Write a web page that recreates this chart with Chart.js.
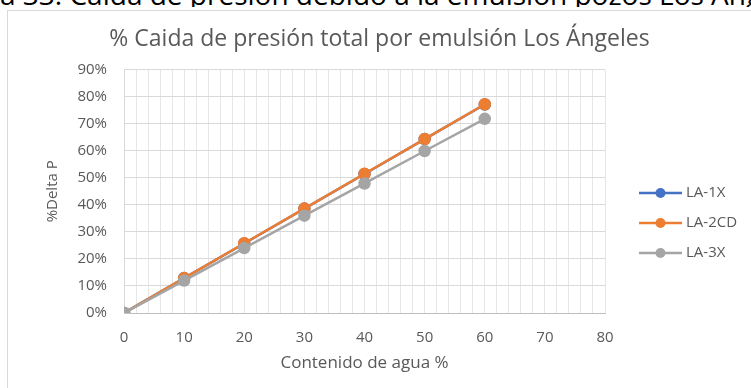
<!DOCTYPE html>
<html>
<head>
<meta charset="utf-8">
<script src="https://cdn.jsdelivr.net/npm/chart.js@4.4.1/dist/chart.umd.min.js"></script>
<style>
    html, body { margin: 0; padding: 0; background: #ffffff; overflow: hidden; }
    body { width: 751px; height: 388px; position: relative; }
    #caption {
        position: absolute; left: 0; top: -20px; width: 751px; height: 27px;
        white-space: nowrap; overflow: hidden;
        font-family: "Open Sans", "Noto Sans", sans-serif; font-size: 28px; line-height: 28px; color: #000000;
    }
    #box {
        position: absolute; left: 7px; top: 10px; width: 744px; height: 378px;
        border-left: 1px solid #d9d9d9; border-top: 1px solid #d9d9d9; background: #ffffff;
    }
    #chart_container { position: absolute; left: 0; top: 0; width: 743px; height: 377px; }
</style>
</head>
<body>
<div id="caption">a 33: Caída de presión debido a la emulsión pozos Los Ángeles</div>
<div id="box">
    <div id="chart_container"><canvas id="LA_Chart"></canvas></div>
</div>
<script>
//--------------------------------------------------------------------------------------//
//--------------------------------------- Data -----------------------------------------//
//--------------------------------------------------------------------------------------//
var water_content = [0, 10, 20, 30, 40, 50, 60];
var la_1x = [0, 12.9, 25.7, 38.6, 51.4, 64.3, 77.1];
var la_2cd = [0, 12.9, 25.8, 38.6, 51.5, 64.3, 77.2];
var la_3x = [0, 12.0, 24.0, 36.0, 47.9, 59.9, 71.8];
var series_names = ['LA-1X', 'LA-2CD', 'LA-3X'];
var series_colors = ['#4472C4', '#ED7D31', '#A5A5A5'];

var FONT = '"Open Sans", "Noto Sans", sans-serif';
var TEXT_COLOR = '#595959';

function toPoints(values) {
    return water_content.map(function (x, i) {
        return { x: x, y: values[i] };
    });
}

function makeDataset(idx, values) {
    return {
        label: series_names[idx],
        data: toPoints(values),
        borderColor: series_colors[idx],
        backgroundColor: series_colors[idx],
        pointBackgroundColor: series_colors[idx],
        pointBorderColor: series_colors[idx],
        borderWidth: 2.5,
        pointRadius: 5,
        pointHoverRadius: 5,
        order: 3 - idx
    };
}

//--------------------------------------------------------------------------------------//
//------------------------------ Legend (line + marker) --------------------------------//
//--------------------------------------------------------------------------------------//
var lineLegend = {
    id: 'lineLegend',
    afterDraw: function (chart, args, opts) {
        var ctx = chart.ctx;
        var x0 = chart.chartArea.right + opts.offsetX;
        ctx.save();
        ctx.font = '15px ' + FONT;
        ctx.textBaseline = 'middle';
        ctx.textAlign = 'left';
        chart.data.datasets.forEach(function (ds, i) {
            var y = opts.top + i * opts.spacing;
            ctx.strokeStyle = ds.borderColor;
            ctx.lineWidth = 2.5;
            ctx.beginPath();
            ctx.moveTo(x0, y);
            ctx.lineTo(x0 + opts.lineLength, y);
            ctx.stroke();
            ctx.fillStyle = ds.borderColor;
            ctx.beginPath();
            ctx.arc(x0 + opts.lineLength / 2, y, 5, 0, Math.PI * 2);
            ctx.fill();
            ctx.fillStyle = TEXT_COLOR;
            ctx.fillText(ds.label, x0 + opts.lineLength + 4, y);
        });
        ctx.restore();
    }
};

//--------------------------------------------------------------------------------------//
//--------------------------------------- Chart ----------------------------------------//
//--------------------------------------------------------------------------------------//
var la_data = {
    datasets: [
        makeDataset(0, la_1x),
        makeDataset(1, la_2cd),
        makeDataset(2, la_3x)
    ]
};

var la_config = {
    type: 'line',
    data: la_data,
    plugins: [lineLegend],
    options: {
        responsive: true,
        maintainAspectRatio: false,
        animation: false,
        layout: {
            padding: 0
        },
        scales: {
            x: {
                type: 'linear',
                min: 0,
                max: 80,
                afterFit: function (scale) { scale.height = 75; },
                ticks: {
                    stepSize: 2,
                    autoSkip: false,
                    maxRotation: 0,
                    padding: 16,
                    color: TEXT_COLOR,
                    font: { family: FONT, size: 15 },
                    callback: function (v) { return v % 10 === 0 ? v : ''; }
                },
                grid: { color: '#e6e6e6', lineWidth: 1, drawTicks: false },
                border: { color: '#bfbfbf', width: 1 },
                title: {
                    display: true,
                    text: 'Contenido de agua %',
                    color: TEXT_COLOR,
                    font: { family: FONT, size: 17 },
                    padding: { top: 0, bottom: 15 }
                }
            },
            y: {
                min: 0,
                max: 90,
                afterFit: function (scale) { scale.width = 116; },
                ticks: {
                    stepSize: 10,
                    padding: 17,
                    color: TEXT_COLOR,
                    font: { family: FONT, size: 15 },
                    callback: function (v) { return v + '%'; }
                },
                grid: { color: '#d9d9d9', lineWidth: 1, drawTicks: false },
                border: { color: '#d9d9d9', width: 1 },
                title: {
                    display: true,
                    text: '%Delta P',
                    color: TEXT_COLOR,
                    font: { family: FONT, size: 15 },
                    padding: { top: 36, bottom: 0 }
                }
            },
            // empty axis on the right, keeps room for the legend
            legendSpace: {
                type: 'linear',
                position: 'right',
                display: true,
                afterFit: function (scale) { scale.width = 146; },
                grid: { display: false, drawTicks: false },
                border: { display: false },
                ticks: { display: false }
            }
        },
        plugins: {
            legend: { display: false },
            tooltip: { enabled: false },
            title: {
                display: true,
                text: '% Caida de presión total por emulsión Los Ángeles',
                color: TEXT_COLOR,
                font: { family: FONT, size: 23, weight: 'normal' },
                padding: { top: 15, bottom: 16 }
            },
            lineLegend: { offsetX: 34, top: 182, spacing: 30, lineLength: 43 }
        }
    }
};

// Render chart
var LA_Chart = new Chart(
    document.getElementById('LA_Chart'),
    la_config
);
</script>
</body>
</html>
